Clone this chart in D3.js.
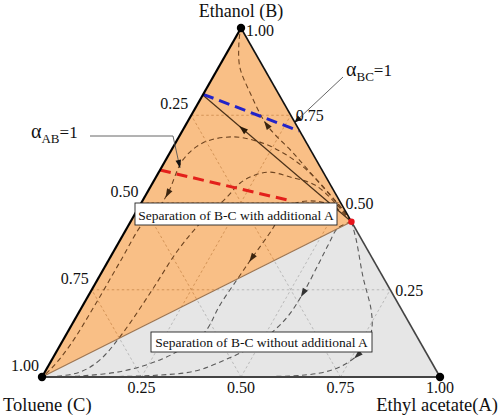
<!DOCTYPE html>
<html><head><meta charset="utf-8">
<script src="https://cdn.jsdelivr.net/npm/d3@7"></script>
<style>body{margin:0;background:#fff} svg{display:block} text{font-family:"Liberation Serif","Times New Roman",serif;fill:#111}</style>
</head><body><svg id="c" width="500" height="420"></svg>
<script>
// ---- data (ternary points given as [A, B]; C = 1 - A - B) ----
const vertexNames = ["Ethyl acetate(A)", "Ethanol (B)", "Toluene (C)"];
const gridValues = [0.25, 0.5, 0.75];
const bottomTicks = [0.25, 0.5, 0.75, 1.0];          // A fraction on C-A edge
const bottomTickLabels = ["0.25", "0.50", "0.75", "1.00"];
const leftTicks = [0.25, 0.5, 0.75, 1.0];            // C fraction on B-C edge
const leftTickLabels = ["0.25", "0.50", "0.75", "1.00"];
const rightTicks = [0.25, 0.5, 0.75, 1.0];           // B fraction on A-B edge
const rightTickLabels = ["0.25", "0.50", "0.75", "1.00"];
const azeotrope = [0.555, 0.445];

const curveToB = [[0.555,0.445],[0.517,0.479],[0.434,0.544],[0.310,0.642],[0.204,0.722],[0.116,0.814],[0.053,0.888],[0.019,0.951],[0.003,0.989]];
const curveDome1 = [[0.555,0.445],[0.492,0.499],[0.369,0.593],[0.285,0.642],[0.211,0.673],[0.136,0.688],[0.069,0.671],[0.043,0.622],[0.053,0.527],[0.048,0.473],[0.033,0.441],[0.031,0.330],[0.030,0.206],[0.025,0.092],[0.012,0.026],[0,0]];
const curveDome2 = [[0.555,0.445],[0.495,0.493],[0.411,0.550],[0.337,0.573],[0.279,0.587],[0.246,0.579],[0.220,0.556],[0.207,0.516],[0.179,0.447],[0.160,0.364],[0.152,0.249],[0.140,0.126],[0.121,0.049],[0.088,0.014],[0.032,0.0015],[0,0]];
const curveMid = [[0.555,0.445],[0.493,0.487],[0.434,0.504],[0.383,0.496],[0.366,0.464],[0.367,0.427],[0.357,0.341],[0.351,0.284],[0.344,0.206],[0.345,0.129],[0.316,0.086],[0.272,0.049],[0.195,0.017],[0.094,0.003],[0,0]];
const curveLow1 = [[0.555,0.445],[0.593,0.393],[0.663,0.287],[0.731,0.192],[0.759,0.140],[0.769,0.100],[0.762,0.063],[0.734,0.029],[0.693,0.0115],[0.622,0.003],[0.497,0.001]];
const curveLow2 = [[0.555,0.445],[0.530,0.427],[0.530,0.378],[0.533,0.321],[0.536,0.241],[0.531,0.175],[0.511,0.123],[0.477,0.080],[0.435,0.049],[0.376,0.017],[0.269,0.004],[0.145,0.001]];
const distillationLine = [[0.555,0.445],[0.0,0.808]];
const alphaBC = [[0.0,0.81],[0.293,0.705]];
const alphaAB = [[0.0,0.593],[0.376,0.504]];

// arrow positions on curves ([A,B])
const curveArrows = [
  {pts: curveToB, at: [0.204,0.722], dark:"#3b2510"},
  {pts: curveDome1, at: [0.053,0.527], dark:"#3b2510"},
  {pts: curveDome2, at: [0.179,0.447], dark:"#3b2510"},
  {pts: curveMid, at: [0.357,0.341], dark:"#3b2510"},
  {pts: curveLow1, at: [0.762,0.063], dark:"#333"},
  {pts: curveLow2, at: [0.536,0.241], dark:"#333"}
];

// ---- scales ----
const X = d3.scaleLinear().domain([0,1]).range([42,440]);
const Y = d3.scaleLinear().domain([0,1]).range([377,28]);
const px = d => X(d[0] + d[1]/2);
const py = d => Y(d[1]);

const svg = d3.select("#c");
const defs = svg.append("defs");

const VB = [0,1], VC = [0,0], VA = [1,0];
const orangePoly = [VB, VC, azeotrope];
const grayPoly = [VC, VA, azeotrope];
const polyStr = p => p.map(d => px(d)+","+py(d)).join(" ");

defs.append("clipPath").attr("id","clipO").append("polygon").attr("points", polyStr(orangePoly));
defs.append("clipPath").attr("id","clipG").append("polygon").attr("points", polyStr(grayPoly));

svg.append("polygon").attr("points", polyStr(orangePoly)).attr("fill","#f9bf86");
svg.append("polygon").attr("points", polyStr(grayPoly)).attr("fill","#e6e6e6");

// grid lines
const gridSegs = [];
gridValues.forEach(v => {
  gridSegs.push([[0,v],[1-v,v]]);          // constant B
  gridSegs.push([[v,0],[v,1-v]]);          // constant A
  gridSegs.push([[1-v,0],[0,1-v]]);        // constant C
});
const lineStraight = d3.line().x(px).y(py);
[["clipO","#cf8e52"],["clipG","#b4b4b4"]].forEach(([clip,col]) => {
  const g = svg.append("g").attr("clip-path","url(#"+clip+")");
  g.selectAll("path").data(gridSegs).join("path")
    .attr("d", lineStraight).attr("fill","none").attr("stroke",col)
    .attr("stroke-width",0.9).attr("stroke-dasharray","2.5,2.5");
});

// residue curves
const curveLine = d3.line().x(px).y(py).curve(d3.curveCatmullRom.alpha(0.5));
const allCurves = [curveToB, curveDome1, curveDome2, curveMid, curveLow1, curveLow2];
[["clipO","#6e4420"],["clipG","#5a5a5a"]].forEach(([clip,col]) => {
  const g = svg.append("g").attr("clip-path","url(#"+clip+")");
  g.selectAll("path").data(allCurves).join("path")
    .attr("d", curveLine).attr("fill","none").attr("stroke",col)
    .attr("stroke-width",1.1).attr("stroke-dasharray","5,3.5");
});

// boundary C-P
svg.append("path").attr("d", lineStraight([VC, azeotrope])).attr("stroke","#9c7450").attr("stroke-width",1.1).attr("fill","none");

// distillation line (solid)
svg.append("path").attr("d", lineStraight(distillationLine)).attr("stroke","#4a3018").attr("stroke-width",1.2).attr("fill","none");

// alpha lines
svg.append("path").attr("d", lineStraight(alphaBC)).attr("stroke","#2323c8").attr("stroke-width",3).attr("stroke-dasharray","11,6").attr("fill","none");
svg.append("path").attr("d", lineStraight(alphaAB)).attr("stroke","#e3201b").attr("stroke-width",3).attr("stroke-dasharray","11,6").attr("fill","none");

// edges
svg.append("path").attr("d", lineStraight([VB, VC])).attr("stroke","#000").attr("stroke-width",2.2).attr("fill","none");
svg.append("path").attr("d", lineStraight([VB, azeotrope])).attr("stroke","#111").attr("stroke-width",1.6).attr("fill","none");
svg.append("path").attr("d", lineStraight([azeotrope, VA])).attr("stroke","#444").attr("stroke-width",1.6).attr("fill","none");
svg.append("path").attr("d", lineStraight([VC, VA])).attr("stroke","#444").attr("stroke-width",1.8).attr("fill","none");

// arrowheads
function arrowAt(pathD, target, color) {
  const tmp = svg.append("path").attr("d", pathD).attr("fill","none").attr("stroke","none");
  const node = tmp.node();
  const L = node.getTotalLength();
  const tx = px(target), ty = py(target);
  let best = 0, bd = 1e9;
  for (let l = 0; l <= L; l += 0.5) {
    const p = node.getPointAtLength(l);
    const dd = (p.x-tx)**2 + (p.y-ty)**2;
    if (dd < bd) { bd = dd; best = l; }
  }
  const p = node.getPointAtLength(best);
  const a = node.getPointAtLength(Math.max(0,best-2));
  const b = node.getPointAtLength(Math.min(L,best+2));
  const ang = Math.atan2(b.y-a.y, b.x-a.x) * 180 / Math.PI;
  tmp.remove();
  svg.append("polygon").attr("points","5,0 -4,-3 -4,3")
    .attr("fill", color)
    .attr("transform","translate("+p.x+","+p.y+") rotate("+ang+")");
}
curveArrows.forEach(c => arrowAt(curveLine(c.pts), c.at, c.dark));
arrowAt(lineStraight(distillationLine), [0.152,0.716], "#2a1a08");

// vertex dots
svg.selectAll("circle.v").data([VA,VB,VC]).join("circle").attr("class","v")
  .attr("cx",px).attr("cy",py).attr("r",4.2).attr("fill","#000");
svg.append("circle").attr("cx",px(azeotrope)).attr("cy",py(azeotrope)).attr("r",3.2).attr("fill","#e8141c");

// tick labels
svg.selectAll("text.bt").data(bottomTicks).join("text").attr("class","bt")
  .attr("x", v => px([v,0])).attr("y", 393).attr("text-anchor","middle")
  .attr("font-size",16).text((v,i) => bottomTickLabels[i]);
svg.selectAll("text.lt").data(leftTicks).join("text").attr("class","lt")
  .attr("x", v => px([0,1-v]) - 3).attr("y", v => py([0,1-v]) - 6).attr("text-anchor","end")
  .attr("font-size",16).text((v,i) => leftTickLabels[i]);
svg.selectAll("text.rt").data(rightTicks).join("text").attr("class","rt")
  .attr("x", v => px([1-v,v]) + 5).attr("y", v => py([1-v,v]) + (v === 1 ? 8 : 6)).attr("text-anchor","start")
  .attr("font-size",16).text((v,i) => rightTickLabels[i]);

// vertex names
svg.append("text").attr("x", px(VB)).attr("y", 17).attr("text-anchor","middle").attr("font-size",18).text(vertexNames[1]);
svg.append("text").attr("x", 3).attr("y", 411).attr("text-anchor","start").attr("font-size",18.5).text(vertexNames[2]);
svg.append("text").attr("x", 498).attr("y", 411).attr("text-anchor","end").attr("font-size",18.5).text(vertexNames[0]);

// annotation boxes
function box(x, y, w, h, label) {
  svg.append("rect").attr("x",x).attr("y",y).attr("width",w).attr("height",h)
    .attr("fill","#fff").attr("stroke","#222").attr("stroke-width",0.9);
  svg.append("text").attr("x", x+w/2).attr("y", y+h-5).attr("text-anchor","middle")
    .attr("font-size",13.5).text(label);
}
box(135, 203, 202, 22, "Separation of B-C with additional A");
box(151, 332, 221, 20, "Separation of B-C without additional A");

// alpha labels with leaders
function alphaLabel(x, y, sub) {
  const t = svg.append("text").attr("x", x).attr("y", y);
  t.append("tspan").attr("font-size",20).text("α");
  t.append("tspan").attr("font-size",13).attr("dy",5).text(sub);
  t.append("tspan").attr("font-size",17).attr("dy",-5).text("=1");
}
alphaLabel(31, 138, "AB");
alphaLabel(346, 76, "BC");

function leader(points, color) {
  svg.append("path").attr("d", d3.line()(points)).attr("fill","none").attr("stroke",color).attr("stroke-width",0.9);
  const n = points.length;
  const [x1,y1] = points[n-2], [x2,y2] = points[n-1];
  const ang = Math.atan2(y2-y1, x2-x1)*180/Math.PI;
  svg.append("polygon").attr("points","0,0 -8,-2.8 -8,2.8").attr("fill","#111")
    .attr("transform","translate("+x2+","+y2+") rotate("+ang+")");
}
leader([[90,136],[173,136],[180,168]], "#555");
leader([[343,77],[294,123]], "#555");
</script></body></html>
